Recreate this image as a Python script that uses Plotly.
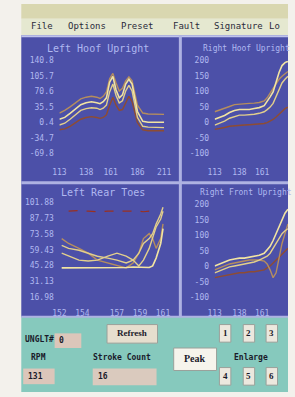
import plotly.graph_objects as go

W, H = 295, 397

# ---------------- data ----------------
menu_items = ["File", "Options", "Preset", "Fault", "Signature", "Lo"]
panel_titles = ["Left Hoof Upright", "Right Hoof Upright", "Left Rear Toes", "Right Front Upright"]

# Top-left panel
tl_x = [113, 118, 123, 128, 133, 138, 143, 148, 151, 154, 157, 160, 163, 166, 169, 172, 175, 178, 181, 186, 191, 196, 201, 206, 211]
tl_a = [7.8, 12.2, 21.1, 32.2, 41.0, 45.5, 47.7, 45.5, 43.2, 47.7, 56.6, 92.0, 105.3, 74.3, 56.6, 63.2, 87.6, 98.7, 87.6, 25.5, 3.3, 1.1, 1.1, 1.1, 1.1]
tl_b = [-5, -1, 8, 19, 28, 32, 34, 33, 30, 33, 40, 70, 88, 62, 45, 50, 72, 85, 72, 12, -8, -10, -10, -11, -11]
tl_c = [22, 28, 36, 45, 54, 58, 60, 58, 55, 60, 70, 100, 112, 90, 72, 78, 95, 104, 95, 40, 22, 20, 20, 19, 19]
tl_d = [-16, -14, -8, 0, 8, 12, 14, 12, 10, 12, 18, 40, 58, 40, 28, 30, 46, 60, 48, 0, -16, -18, -18, -18, -18]
tl_yticks = [140.8, 105.7, 70.6, 35.5, 0.4, -34.7, -69.8]
tl_yticktext = ["140.8", "105.7", "70.6", "35.5", "0.4", "-34.7", "-69.8"]
tl_xticks = [113, 138, 161, 186, 211]

# Top-right panel
tr_x = [113, 118, 123, 128, 133, 138, 143, 148, 153, 158, 163, 166, 169, 172, 175, 178, 181, 184, 187]
tr_a = [10.5, 16.8, 23.2, 32.6, 39.0, 42.1, 42.1, 42.1, 45.3, 48.4, 54.7, 67.4, 83.2, 98.9, 130.5, 162.1, 184.2, 193.7, 198]
tr_b = [-8, -2, 5, 14, 20, 24, 24, 25, 27, 30, 35, 42, 50, 62, 85, 110, 128, 140, 150]
tr_c = [35, 40, 45, 52, 58, 60, 61, 62, 63, 65, 70, 80, 95, 110, 125, 140, 150, 158, 165]
tr_d = [-22, -20, -16, -12, -10, -8, -8, -7, -6, -5, -3, 0, 5, 10, 18, 28, 38, 45, 50]
tr_yticks = [200, 150, 100, 50, 0, -50, -100]
tr_yticktext = ["200", "150", "100", "50", "0", "-50", "-100"]
tr_xticks = [113, 138, 161]

# Bottom-left panel
bl_x = [152.2, 152.8, 153.7, 154.5, 155.3, 156.2, 157.0, 157.8, 158.4, 158.9, 159.3, 159.8, 160.1, 160.4, 160.8, 161.0]
bl_a = [63.4, 60.7, 59.0, 56.4, 53.7, 52.0, 50.2, 47.6, 50.2, 56.4, 65.1, 69.5, 73.9, 82.6, 91.4, 97.5]
bl_b = [56.4, 53.7, 50.2, 49.4, 50.2, 53.7, 56.4, 53.7, 50.2, 44.9, 50.2, 60.7, 71.2, 79.9, 87.0, 94.0]
bl_c = [43.2, 43.2, 43.2, 43.6, 43.6, 43.2, 43.2, 43.6, 44.0, 44.0, 43.6, 43.6, 45.0, 52.0, 65.1, 78.3]
bl_d = [69.5, 65.1, 60.7, 56.4, 50.2, 47.6, 44.9, 43.2, 47.6, 56.4, 69.5, 73.9, 69.5, 60.7, 69.5, 82.6]
bl_e = [None, 94.0, 94.5, 94.0, 93.5, 94.0, 94.0, 94.5, 94.0, 94.0, 93.5, 94.0, None, None, None, None]
bl_yticks = [101.88, 87.73, 73.58, 59.43, 45.28, 31.13, 16.98]
bl_yticktext = ["101.88", "87.73", "73.58", "59.43", "45.28", "31.13", "16.98"]
bl_xticks = [152, 154, 157, 159, 161]

# Bottom-right panel
br_x = [113, 118, 123, 128, 133, 138, 143, 148, 153, 158, 163, 166, 169, 172, 175, 178, 181, 184, 187]
br_a = [1.0, 7.4, 13.7, 20.0, 23.2, 26.3, 26.3, 29.5, 32.6, 35.8, 42.1, 51.6, 64.2, 83.2, 105.3, 127.4, 152.6, 171.6, 184.2]
br_b = [-21.1, -14.7, -8.4, -2.1, 1.0, 4.2, 7.4, 10.5, 13.7, 20.0, 26.3, 32.6, 42.1, 57.9, 73.7, 89.5, 105.3, 114.7, 121.1]
br_c = [-11.6, -5.3, 1.0, 7.4, 10.5, 13.7, 16.8, 20.0, 20.0, 20.0, 16.8, 7.4, -11.6, -36.8, -21.1, 26.3, 73.7, 105.3, 136.8]
br_d = [-36.8, -33.7, -30.5, -27.4, -24.2, -21.1, -21.1, -17.9, -17.9, -14.7, -11.6, -5.3, 1.0, 10.5, 20.0, 32.6, 42.1, 51.6, 57.9]
br_yticks = [200, 150, 100, 50, 0, -50, -100]
br_yticktext = ["200", "150", "100", "50", "0", "-50", "-100"]
br_xticks = [113, 138, 161]

# control panel
ctrl_labels = {"unit": "UNGLT#", "unit_val": "0", "rpm": "RPM", "rpm_val": "131",
               "refresh": "Refresh", "stroke": "Stroke Count", "stroke_val": "16",
               "peak": "Peak", "enlarge": "Enlarge"}
enlarge_buttons = ["1", "2", "3", "4", "5", "6"]

# ---------------- styling ----------------
CREAM = "#f2e4a2"
CREAM2 = "#e2cf8c"
TAN = "#b58d5e"
BROWN = "#8e4c32"
RED = "#9a3020"
BLUE = "#4c50a8"
LAV = "#b0b8f0"
PLOTBG = "#2a1510"


def fx(p):
    return p / W


def fy(p):
    return 1 - p / H


fig = go.Figure()


def add(xs, ys, axis, color, width=1.4, dash=None):
    fig.add_trace(go.Scatter(x=xs, y=ys, mode="lines", xaxis="x" + axis, yaxis="y" + axis,
                             line=dict(color=color, width=width, dash=dash),
                             showlegend=False, hoverinfo="skip", connectgaps=False))


# top-left
add(tl_x, tl_d, "", BROWN)
add(tl_x, tl_c, "", TAN)
add(tl_x, tl_b, "", CREAM2)
add(tl_x, tl_a, "", CREAM, 1.6)
# top-right
add(tr_x, tr_d, "2", BROWN)
add(tr_x, tr_c, "2", TAN)
add(tr_x, tr_b, "2", CREAM2)
add(tr_x, tr_a, "2", CREAM, 1.6)
# bottom-left
add(bl_x, bl_e, "3", RED, 1.2, "dash")
add(bl_x, bl_d, "3", TAN)
add(bl_x, bl_b, "3", CREAM2)
add(bl_x, bl_a, "3", CREAM2)
add(bl_x, bl_c, "3", CREAM, 1.6)
# bottom-right
add(br_x, br_d, "4", BROWN)
add(br_x, br_c, "4", TAN)
add(br_x, br_b, "4", CREAM2)
add(br_x, br_a, "4", CREAM, 1.6)

tickfont = dict(family="DejaVu Sans Mono", size=8, color=LAV)


def xax(dom, rng, ticks, anchor, ticklen):
    return dict(domain=[fx(dom[0]), fx(dom[1])], range=rng, tickvals=ticks,
                ticktext=[str(t) for t in ticks], anchor=anchor, showgrid=False,
                zeroline=False, showline=False, ticks="outside", ticklen=ticklen,
                tickcolor="rgba(0,0,0,0)", tickfont=tickfont, fixedrange=True)


def yax(dom, ticks, ticktext, anchor):
    return dict(domain=[fy(dom[1]), fy(dom[0])], range=[ticks[-1], ticks[0]], tickvals=ticks,
                ticktext=ticktext, anchor=anchor, showgrid=False, zeroline=False, showline=False,
                ticks="outside", ticklen=3, tickcolor="rgba(0,0,0,0)",
                tickfont=tickfont, fixedrange=True)


fig.update_layout(
    width=W, height=H, margin=dict(l=0, r=0, t=0, b=0),
    paper_bgcolor="#f3f1ec", plot_bgcolor=PLOTBG, showlegend=False,
    xaxis=xax((55, 165), [113, 211], tl_xticks, "y", 11),
    yaxis=yax((58, 153), tl_yticks, tl_yticktext, "x"),
    xaxis2=xax((218, 295), [113, 187.04], tr_xticks, "y2", 11),
    yaxis2=yax((58, 153), tr_yticks, tr_yticktext, "x2"),
    xaxis3=xax((55, 165), [152, 161.1], bl_xticks, "y3", 8),
    yaxis3=yax((203, 300), bl_yticks, bl_yticktext, "x3"),
    xaxis4=xax((218, 295), [113, 187.04], br_xticks, "y4", 8),
    yaxis4=yax((205, 300), br_yticks, br_yticktext, "x4"),
)


def rect(x0, y0, x1, y1, fill, line=None, lw=0):
    fig.add_shape(type="rect", xref="paper", yref="paper",
                  x0=fx(x0), x1=fx(x1), y0=fy(y1), y1=fy(y0),
                  fillcolor=fill, line=dict(color=line or fill, width=lw), layer="below")


def seg(x0, y0, x1, y1, color, w):
    fig.add_shape(type="line", xref="paper", yref="paper",
                  x0=fx(x0), x1=fx(x1), y0=fy(y0), y1=fy(y1),
                  line=dict(color=color, width=w), layer="below")


# background regions
rect(15, 0, 295, 15, "#d9d7b0")
rect(15, 15, 295, 32, "#e5e8d0")
rect(15, 32, 295, 320, BLUE)
rect(15, 320, 295, 397, "#86c9bd")
seg(15, 33, 295, 33, "#c0c4ec", 2)
seg(182, 33, 182, 320, "#aeb2e2", 3)
seg(15, 183, 295, 183, "#aeb2e2", 3)
seg(15, 320, 295, 320, "#aeb2e2", 2)

# control widgets
rect(50, 337, 78, 352, "#dcc6ba")
rect(17, 373, 50, 389, "#dcc6ba")
rect(90, 373, 157, 390, "#dacabe")
rect(105, 328, 158, 347, "#e6dece", "#9aa09a", 1)
rect(175, 352, 220, 375, "#f6f4ec", "#9aa09a", 1)
btn_x = [229, 254, 278]
for i, lbl in enumerate(enlarge_buttons):
    cx = btn_x[i % 3]
    cy = 337 if i < 3 else 381
    rect(cx - 6, cy - 9, cx + 6, cy + 9, "#ece8de", "#9aa09a", 1)


def text(x, y, s, size=9, color="#1a1a2a", family="DejaVu Sans Mono", xanchor="left", bold=False):
    fig.add_annotation(x=fx(x), y=fy(y), xref="paper", yref="paper", text=("<b>%s</b>" % s) if bold else s,
                       showarrow=False, xanchor=xanchor, yanchor="middle",
                       font=dict(family=family, size=size, color=color))


menu_x = [23, 62, 118, 172, 215, 273]
for mx, m in zip(menu_x, menu_items):
    text(mx, 23, m, 9, "#2a2a3a")

text(40, 46, panel_titles[0], 10, LAV)
text(204, 46, panel_titles[1], 8, LAV)
text(55, 193, panel_titles[2], 10, LAV)
text(200, 193, panel_titles[3], 8, LAV)

text(17, 343, ctrl_labels["unit"], 8, bold=True)
text(53, 344, ctrl_labels["unit_val"], 8, bold=True)
text(23, 362, ctrl_labels["rpm"], 8, bold=True)
text(20, 381, ctrl_labels["rpm_val"], 8, bold=True)
text(131, 337, ctrl_labels["refresh"], 9, family="Liberation Serif", xanchor="center", bold=True)
text(121, 362, ctrl_labels["stroke"], 8, bold=True, xanchor="center")
text(93, 381, ctrl_labels["stroke_val"], 8, bold=True)
text(197, 363, ctrl_labels["peak"], 10, family="Liberation Serif", xanchor="center", bold=True)
text(256, 362, ctrl_labels["enlarge"], 8, bold=True, xanchor="center")
for i, lbl in enumerate(enlarge_buttons):
    text(btn_x[i % 3], 337 if i < 3 else 381, lbl, 9, family="Liberation Serif", xanchor="center", bold=True)

fig.write_html("out.html", config={"displayModeBar": False},
               post_script="document.body.style.margin='0';document.body.style.overflow='hidden';")
